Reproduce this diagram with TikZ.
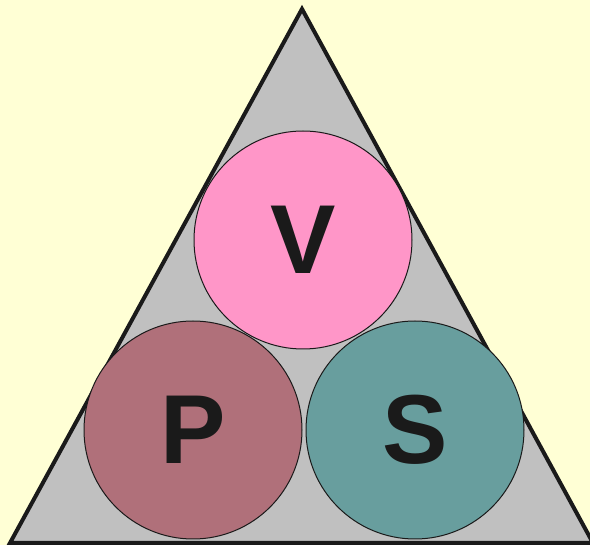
\documentclass[tikz,border=0pt]{standalone}
\usepackage{fontspec}
\setmainfont{Liberation Sans}
\usepackage{xcolor}
\definecolor{bgyellow}{HTML}{FFFFD5}
\definecolor{trigray}{HTML}{C0C0C0}
\definecolor{edgedark}{HTML}{1A1A1A}
\definecolor{vpink}{HTML}{FF96C8}
\definecolor{pmauve}{HTML}{B0707A}
\definecolor{steal}{HTML}{689E9E}
\tikzset{
  ball/.style={circle, draw=edgedark, line width=1pt, inner sep=0pt,
               minimum size=218pt, text=edgedark,
               font=\fontsize{98}{98}\selectfont\bfseries},
  frame/.style={draw=edgedark, line width=4pt, fill=trigray, line join=miter}
}
\begin{document}
\begin{tikzpicture}[x=1pt, y=-1pt]
  \fill[bgyellow] (0,0) rectangle (590,545);
  \useasboundingbox (0,0) rectangle (590,545);

  % Triangle
  \coordinate (apex) at (302,9);
  \coordinate (left) at (10,543);
  \coordinate (right) at (593,543);
  \draw[frame] (apex) -- (left) -- (right) -- cycle;

  % Circles
  \node[ball, fill=vpink] (v) at (303,240) {V};
  \node[ball, fill=pmauve] (p) at (193,430) {P};
  \node[ball, fill=steal] (s) at (415,430) {S};
\end{tikzpicture}
\end{document}
